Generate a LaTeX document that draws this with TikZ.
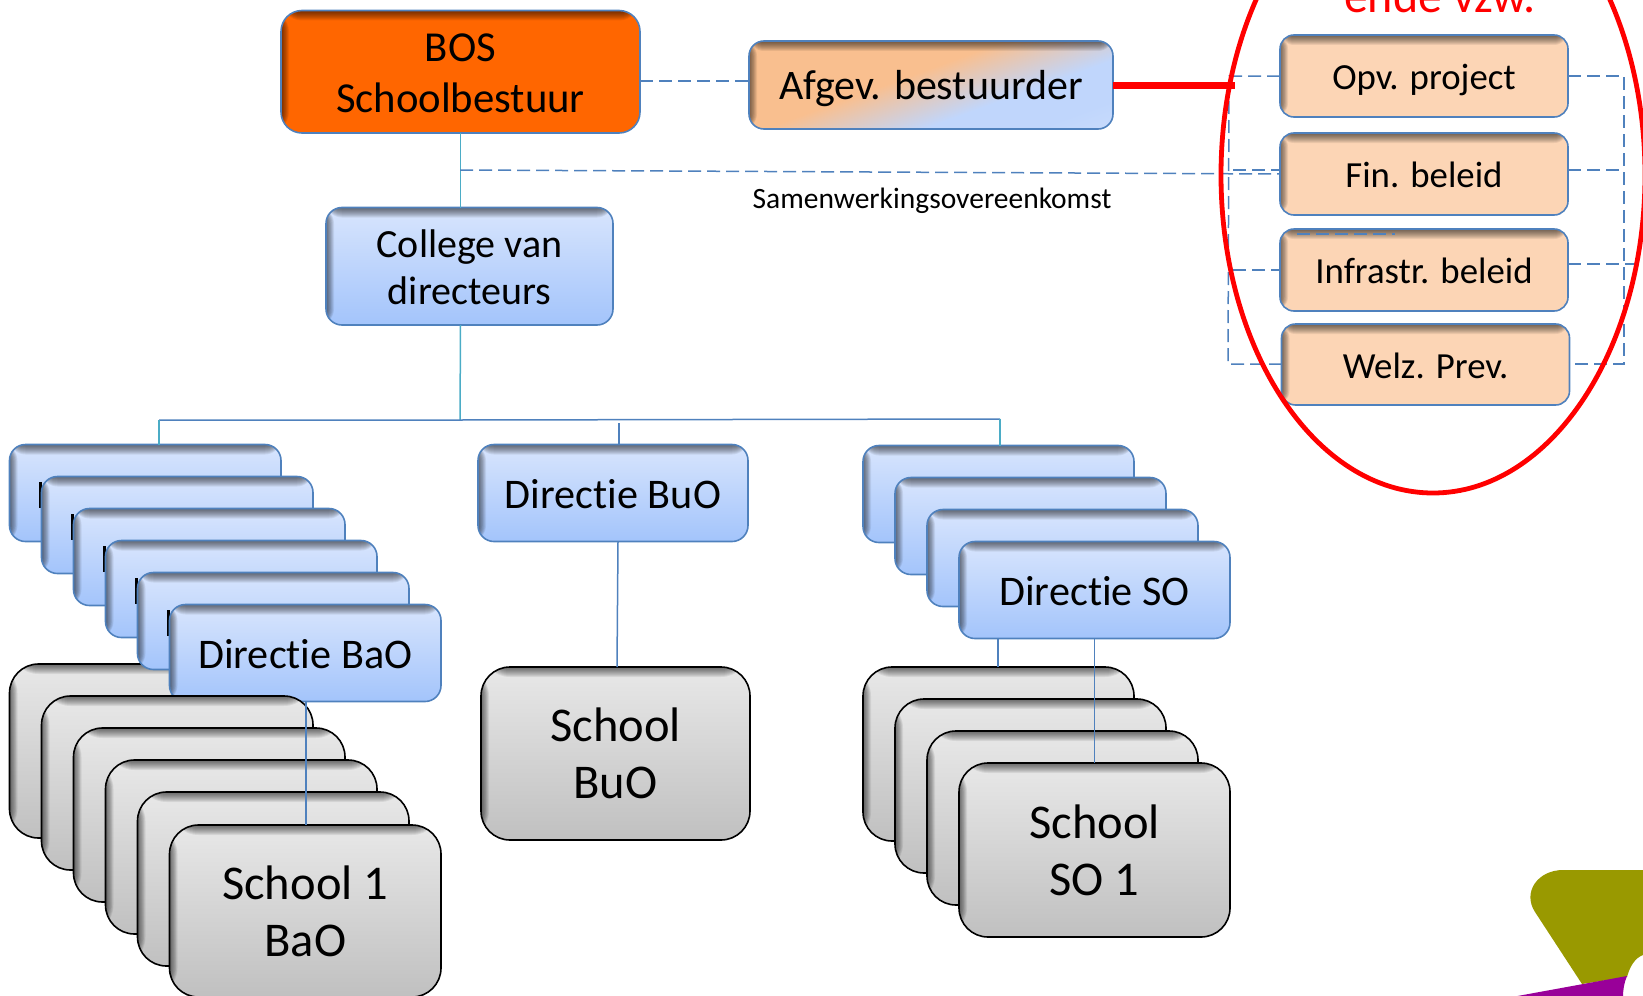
\documentclass[tikz,border=0pt]{standalone}
\usepackage{fontspec}
\setmainfont[Ligatures=NoCommon]{Carlito}
\usetikzlibrary{shapes.geometric}
\definecolor{edgeblue}{HTML}{4F81BD}
\definecolor{tealline}{HTML}{4BACC6}
\definecolor{peach}{HTML}{FCD5B5}
\definecolor{peachb}{HTML}{F9BF8F}
\definecolor{bluetop}{HTML}{D8E5FD}
\definecolor{bluebot}{HTML}{A3C4FB}
\definecolor{greytop}{HTML}{E8E8E8}
\definecolor{greybot}{HTML}{C0C0C0}
\definecolor{olive}{HTML}{999900}
\definecolor{purplelogo}{HTML}{990099}
\colorlet{afgmid}{bluetop!55!bluebot}
\pgfdeclarehorizontalshading{afgshade}{100bp}{color(0bp)=(peachb); color(45bp)=(peachb); color(62bp)=(afgmid); color(74bp)=(afgmid); color(100bp)=(bluetop)}
\tikzset{
  innershadow/.style={path picture={
    \foreach \i in {1,...,10}{
      \fill[black,opacity=.07] (path picture bounding box.north west) rectangle ([yshift=-\i pt]path picture bounding box.north east);
      \fill[black,opacity=.065] (path picture bounding box.north west) rectangle ([xshift=\i*0.8pt]path picture bounding box.south west);
    }}},
  boxbase/.style={rectangle,inner sep=0pt,outer sep=0pt,align=center,text=black,innershadow},
  bluebox/.style={boxbase,draw=edgeblue,line width=1.6pt,rounded corners=16pt,top color=bluetop,bottom color=bluebot,font=\fontsize{40}{47}\selectfont},
  dirbox/.style={bluebox,font=\fontsize{42.2}{47}\selectfont,text height=30pt,text depth=0pt},
  greybox/.style={boxbase,draw=black,line width=1.6pt,rounded corners=29pt,top color=greytop,bottom color=greybot,font=\fontsize{48.5}{57}\selectfont},
  peachbox/.style={boxbase,draw=edgeblue,line width=1.6pt,rounded corners=14pt,fill=peach,font=\fontsize{36.8}{44}\selectfont,text height=27pt,text depth=0pt},
  orangebox/.style={boxbase,draw=edgeblue,line width=1.6pt,rounded corners=21pt,fill=orange!80!red,font=\fontsize{42.7}{51.5}\selectfont},
  afgbox/.style={boxbase,draw=edgeblue,line width=1.6pt,rounded corners=15pt,shading=afgshade,shading angle=-70,font=\fontsize{42}{50}\selectfont,text height=28.5pt,text depth=0pt},
  dashline/.style={draw=edgeblue,line width=1.5pt,dash pattern=on 13pt off 6pt},
  solidline/.style={draw=edgeblue,line width=1.5pt},
  tealconn/.style={draw=tealline,line width=1.5pt},
  sliver/.style={fill=black,draw=none,inner sep=0pt,minimum width=3pt,minimum height=26pt,rectangle}
}
% name, x1, y1, x2, y2, style, text
\newcommand{\bx}[7]{%
  \pgfmathsetmacro{\cxx}{(#2+#4)/2}\pgfmathsetmacro{\cyy}{(#3+#5)/2}%
  \pgfmathsetmacro{\wdd}{#4-#2}\pgfmathsetmacro{\htt}{#5-#3}%
  \node[#6,minimum width=\wdd pt,minimum height=\htt pt] (#1) at (\cxx,\cyy) {#7};}
\begin{document}
\begin{tikzpicture}[x=1pt,y=-1pt]
\useasboundingbox (0,0) rectangle (1643,995.4);
\clip (0,0) rectangle (1643,997);
% logo
\fill[olive] (1563,870) -- (1643,870) -- (1643,955) .. controls (1635,958) and (1630,966) .. (1627,977) -- (1582,984) -- (1535,912) .. controls (1522,892) and (1538,870) .. (1563,870) -- cycle;
\fill[purplelogo] (1512,997) -- (1627,976) .. controls (1624,983) and (1623,990) .. (1623,997) -- cycle;

% BaO stack
\bx{gb1}{9.5}{664}{281}{838}{greybox}{}
\bx{db1}{9.5}{444.5}{281}{541.5}{bluebox}{}
\node[sliver] (s1) at (40.5,495) {};
\bx{db2}{41.5}{476.5}{313}{573.5}{bluebox}{}
\node[sliver] (s2) at (72.5,527) {};
\bx{db3}{73.5}{508.5}{345}{605.5}{bluebox}{}
\node[sliver] (s3) at (104.5,559) {};
\bx{db4}{105.5}{540.5}{377}{637.5}{bluebox}{}
\node[sliver] (s4) at (136.5,591) {};
\bx{db5}{137.5}{572.5}{409}{669.5}{bluebox}{}
\node[sliver] (s5) at (168.5,623) {};
\bx{db6}{169.5}{604.5}{441}{701.5}{dirbox}{Directie BaO}
\bx{gb2}{41.5}{696}{313}{870}{greybox}{}
\bx{gb3}{73.5}{728}{345}{902}{greybox}{}
\bx{gb4}{105.5}{760}{377}{934}{greybox}{}
\bx{gb5}{137.5}{792}{409}{966}{greybox}{}
\bx{gb6}{169.5}{825}{441}{997}{greybox}{School 1\\BaO}

% BuO
\bx{dbu}{478}{444.5}{748}{541.5}{dirbox}{Directie BuO}
\bx{gbu}{481}{667}{750}{840}{greybox}{School\\BuO}

% SO stack
\bx{ds1}{863}{445.5}{1134}{542.5}{bluebox}{}
\bx{ds2}{895}{477.5}{1166}{574.5}{bluebox}{}
\bx{ds3}{927}{509.5}{1198}{606.5}{bluebox}{}
\bx{ds4}{959}{541.5}{1230}{638.5}{dirbox}{Directie SO}
\bx{gs1}{863}{667}{1134}{841}{greybox}{}
\bx{gs2}{895}{699}{1166}{873}{greybox}{}
\bx{gs3}{927}{731}{1198}{905}{greybox}{}
\bx{gs4}{959}{763}{1230}{937}{greybox}{School\\SO 1}

% top
\bx{bos}{281}{10.5}{640}{133}{orangebox}{BOS\rule{0pt}{31pt}\\Schoolbestuur}
\bx{afg}{749}{41}{1113}{129}{afgbox}{Afgev. bestuurder}
\bx{college}{326}{207.5}{613}{325}{bluebox}{College van\rule{0pt}{29pt}\\directeurs}
\node[font=\fontsize{29.5}{35}\selectfont,inner sep=0pt] (samen) at (932,201) {Samenwerkingsovereenkomst};

% right column
\bx{opv}{1280}{35}{1568}{117}{peachbox}{Opv. project}
\bx{fin}{1280}{133}{1568}{215}{peachbox}{Fin. beleid}
\bx{infra}{1280}{229}{1568}{311}{peachbox}{Infrastr. beleid}
\bx{welz}{1281.5}{324}{1569.5}{405}{peachbox}{Welz. Prev.}

% free ends
\coordinate (jc) at (460,420);
\coordinate (jl) at (159,420);
\coordinate (jr) at (1000,419);
\coordinate (jdash) at (460,170);
\coordinate (lt) at (1229,76);
\coordinate (lb) at (1228,364);
\coordinate (rt) at (1624,76);
\coordinate (rb) at (1624,364);
\coordinate (redend) at (1235,85.5);

% solid connectors
\draw[tealconn] (bos.south) -- (bos.south|-college.north);
\draw[tealconn] (bos.south|-college.south) -- (jc);
\draw[solidline] (jl) -- (jc) -- (jr);
\draw[tealconn] (jl) -- (jl|-db1.north);
\draw[solidline] (619,423) -- (619,444.5);
\draw[tealconn] (jr) -- (jr|-ds1.north);
\draw[solidline] (618,541.5) -- (617,667);
\draw[solidline] (306,701.5) -- (306,825);
\draw[solidline] (gs4.north|-ds4.south) -- (gs4.north);
\draw[solidline] (998,638.5) -- (998,667);

% dashed connectors
\draw[dashline] (640,81) -- (afg.west|-0,81);
\draw[dashline] (jdash) -- (1280,174);
\draw[dashline] (1280,76) -- (lt) -- (lb) -- (1281.5,364);
\draw[dashline] (1233,170) -- (1280,170);
\draw[dashline] (1233,270) -- (1280,270);
\draw[dashline] (1297,234) -- (1395,234);
\draw[dashline] (1568,76) -- (rt) -- (rb) -- (1569.5,364);
\draw[dashline] (1568,170) -- (1624,170);
\draw[dashline] (1568,264) -- (1643,264);

% red
\draw[red,line width=6.5pt] (afg.east|-redend) -- (redend);
\node[ellipse,draw=red,line width=4.8pt,inner sep=0pt,minimum width=424pt,minimum height=636pt] (oval) at (1433,175) {};
\node[text=red,font=\fontsize{48}{56}\selectfont,inner sep=0pt,anchor=base] (ende) at (1440,13) {ende vzw.};
\end{tikzpicture}
\end{document}
